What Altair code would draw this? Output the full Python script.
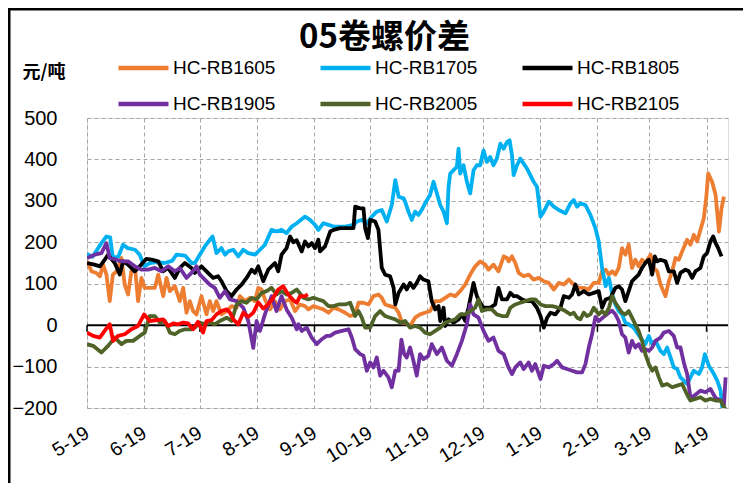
import altair as alt
import pandas as pd

series_names = ["HC-RB1605", "HC-RB1705", "HC-RB1805", "HC-RB1905", "HC-RB2005", "HC-RB2105"]
series_colors = ["#ED7D31", "#00B0F0", "#000000", "#7030A0", "#4F6228", "#FF0000"]

# days counted from May 1 (month boundaries of the x axis)
month_days = [0, 31, 61, 92, 123, 153, 184, 214, 245, 276, 304, 335]
month_labels = ["5-19", "6-19", "7-19", "8-19", "9-19", "10-19", "11-19", "12-19", "1-19", "2-19", "3-19", "4-19"]
y_ticks = [-200, -100, 0, 100, 200, 300, 400, 500]

rb1605_day = [0, 2.4, 5, 7, 8.7, 10.5, 12.3, 14, 16, 18.6, 20.4, 22.2, 24, 26, 27.6, 29.4, 31.2, 34, 36.7, 38.5, 41.2, 43, 44.8, 47.5, 50.2, 52, 53.8, 55.6, 57.4, 59.2, 61.9, 64.6, 66.4, 68.2, 70, 72.7, 75.5, 78.2, 80.9, 82.7, 85.4, 88.1, 90.8, 92.6, 94.4, 96.2, 98.9, 101.6, 104.3, 107, 109.8, 112.5, 115.2, 117.9, 119.7, 122.4, 125.1, 127.8, 130.6, 133.3, 136, 139.6, 142.3, 145, 146.8, 149.5, 152.2, 154.9, 157.6, 159.4, 161.2, 163.9, 166.7, 168.5, 170.3, 172, 174.7, 177.4, 180.1, 182.8, 185.5, 188.3, 191, 193.7, 196.4, 199.1, 201.8, 204.5, 207.2, 209.9, 212.6, 215.3, 217.1, 219.8, 222.5, 225.3, 227.1, 228, 229.8, 231.6, 233.4, 236.1, 238.8, 241.5, 244.3, 247, 249.7, 252.4, 255.1, 257.8, 260.5, 263.2, 265.9, 268.6, 271.3, 274, 276.7, 278.5, 280.4, 282.2, 284, 285.7, 287.5, 289.3, 291.1, 292.9, 294.7, 296.5, 298.3, 300.1, 301.9, 304.7, 306.5, 308.3, 310.1, 312.8, 314.6, 316.4, 318.2, 320, 321.8, 324.5, 326.3, 328.1, 329.9, 331.7, 333.5, 334.8, 335.9, 338, 339.9, 341.7, 343.1, 344.4]
rb1605_val = [154, 130, 126, 118, 146, 122, 58, 122, 130, 162, 98, 74, 130, 138, 58, 114, 90, 90, 90, 122, 70, 114, 82, 94, 58, 90, 30, 58, 34, 26, 70, 26, 58, 34, 58, 26, 34, 46, 42, 70, 58, 66, 58, 90, 86, 62, 38, 58, 38, 58, 62, 34, 50, 46, 38, 46, 42, 38, 30, 42, 38, 30, 22, 26, 54, 54, 50, 70, 74, 66, 50, 46, 42, 30, 6, 6, -2, 18, 26, 30, 34, 58, 58, 66, 74, 70, 82, 98, 122, 142, 154, 146, 134, 146, 130, 166, 162, 154, 166, 150, 126, 118, 122, 110, 114, 106, 102, 86, 102, 98, 110, 98, 90, 90, 86, 102, 102, 130, 134, 122, 130, 122, 138, 186, 170, 194, 138, 158, 142, 158, 150, 170, 138, 130, 98, 70, 106, 130, 162, 158, 178, 206, 194, 218, 202, 230, 258, 306, 366, 346, 314, 226, 282, 310]

rb1705_day = [0, 3, 7.8, 10.5, 12.5, 14, 17, 19.5, 22, 26, 28.5, 31, 34, 38, 42, 46, 48.4, 53, 56.5, 58.3, 61, 63.7, 66.4, 67.9, 70, 72.7, 74.6, 76.4, 79.1, 81.8, 84.5, 87.2, 90.8, 93.5, 96.2, 99.8, 102.5, 105.2, 107.9, 110.7, 113.4, 117.9, 120.6, 123.3, 125.1, 127.8, 130.6, 133.3, 136, 139.6, 144.1, 145.9, 148.6, 151.3, 154, 156.7, 159.4, 162.1, 164.8, 166.7, 168.5, 171.2, 172, 173.8, 175.6, 177.4, 179.2, 181, 182.8, 185.5, 187.4, 189.2, 191, 192.8, 194.6, 195.5, 196.4, 198.2, 200, 200.9, 201.8, 203.6, 205.4, 207.2, 209, 210.8, 212.6, 214.4, 216.2, 218, 219.8, 221.6, 223.5, 225.3, 227.1, 228.5, 229.8, 230.7, 232.5, 234.3, 236.1, 237.9, 239.7, 241.5, 243.3, 244.3, 245.2, 247, 249.7, 252.4, 255.1, 258.7, 261.4, 263.2, 265, 266.8, 269.5, 272.2, 274.9, 276.7, 278.5, 280.4, 282.2, 284, 285.7, 287.5, 289.3, 291.1, 292.9, 295.6, 297.4, 299.2, 301.9, 303.8, 305.6, 307.4, 310.1, 311.9, 313.7, 315.5, 317.3, 319.1, 320.9, 322.7, 324.5, 326.3, 328.1, 330.8, 332.6, 334.1, 336.2, 339, 340.8, 342.6, 343.5, 344.4]
rb1705_val = [172, 165, 198, 214, 212, 162, 166, 194, 186, 182, 170, 142, 150, 152, 150, 155, 170, 168, 150, 150, 170, 190, 206, 214, 174, 186, 170, 178, 182, 166, 182, 174, 170, 182, 194, 230, 226, 230, 222, 238, 246, 262, 254, 242, 230, 246, 242, 238, 238, 238, 242, 250, 254, 246, 262, 274, 278, 250, 290, 350, 310, 306, 298, 274, 254, 274, 266, 278, 294, 314, 346, 318, 290, 274, 246, 334, 366, 374, 382, 426, 366, 386, 346, 318, 374, 386, 386, 422, 394, 406, 386, 402, 438, 426, 442, 446, 410, 362, 386, 402, 390, 378, 362, 346, 334, 298, 262, 274, 298, 286, 278, 270, 294, 302, 286, 294, 290, 266, 234, 202, 138, 94, 114, 74, 50, 34, 26, 6, 2, -6, -18, -30, -46, -26, -46, -38, -62, -70, -54, -78, -102, -106, -126, -134, -142, -126, -110, -118, -102, -70, -98, -118, -134, -158, -198, -210]

rb1805_day = [0, 4, 7, 9.6, 11.4, 15, 17.7, 19.5, 22.2, 25.8, 28.5, 32.1, 34.9, 38.5, 41.2, 43.9, 47.5, 50.2, 52.9, 56.5, 58.3, 61.9, 64.6, 68.2, 70.9, 72.7, 75.5, 78.2, 80.9, 83.6, 86.3, 89, 90.8, 92.6, 95.3, 98, 101.6, 103.4, 105.2, 107.9, 109.8, 111.6, 113.4, 116.1, 117.9, 119.7, 121.5, 123.3, 125.1, 126, 128.7, 131.5, 133.3, 136.9, 140.5, 144.1, 145, 147.7, 149.5, 150.4, 151.9, 153.1, 155.8, 157.6, 159.4, 161.2, 163.9, 165.8, 166.7, 168.5, 171.2, 172.9, 174.7, 176.5, 178.3, 180.1, 181.9, 184.6, 186.4, 188.3, 190.1, 191, 192.8, 193.7, 195.5, 198.2, 200.9, 202.7, 204.5, 206.3, 209, 210.8, 212.6, 214.4, 218, 220.7, 222.5, 224.4, 227.1, 228.9, 230.7, 232.5, 235.2, 237.9, 240.6, 243.3, 245.2, 247, 248.8, 250.6, 253.3, 256, 257.8, 260.5, 262.3, 264.1, 265.9, 268.6, 271.3, 274, 276.7, 278.5, 280.4, 283.1, 285.7, 287.5, 289.3, 291.1, 292.9, 294.7, 296.5, 298.3, 300.1, 301.9, 303.8, 305.6, 307, 308.3, 310.1, 312.8, 314.6, 317.3, 319.1, 320.9, 323.6, 325.4, 327.2, 329, 331.7, 333.5, 335.3, 337.1, 338.6, 339.9, 341.3, 343.1]
rb1805_val = [150, 146, 142, 158, 170, 150, 122, 154, 146, 130, 142, 160, 158, 154, 130, 138, 114, 138, 150, 138, 126, 142, 130, 114, 118, 106, 82, 70, 86, 98, 114, 134, 126, 142, 106, 134, 150, 130, 170, 186, 214, 200, 205, 178, 202, 190, 198, 186, 206, 178, 190, 226, 230, 234, 234, 234, 286, 282, 282, 234, 210, 254, 250, 230, 138, 122, 118, 90, 50, 78, 98, 86, 102, 90, 102, 118, 110, 106, 58, 38, 46, 10, 42, -2, 14, 6, 14, 26, 10, 42, 102, 70, 54, 42, 42, 50, 90, 62, 62, 78, 70, 70, 62, 58, 58, 42, 22, -6, 18, 30, 26, 42, 70, 66, 74, 98, 74, 82, 74, 78, 82, 42, 62, 66, 90, 94, 86, 58, 82, 106, 114, 122, 138, 150, 158, 122, 166, 154, 158, 154, 130, 130, 102, 126, 134, 130, 114, 130, 138, 166, 174, 202, 214, 198, 186, 166]

rb1905_day = [0, 4.2, 7.8, 10.5, 12.3, 15.9, 18.6, 22.2, 25.8, 29.4, 33, 36.7, 40.3, 43.9, 47.5, 50.2, 53.8, 56.5, 59.2, 61, 63.7, 66.4, 69.1, 71.8, 74.6, 77.3, 80.9, 84.5, 87.2, 89.9, 91.7, 93.5, 96.2, 99.8, 102.5, 105.2, 107.9, 110.7, 113.4, 114.3, 116.1, 118.8, 121.5, 124.2, 126.9, 129.6, 131.5, 134.2, 137.8, 141.4, 143.2, 145, 147.7, 149.5, 151.3, 153.1, 154.9, 156.7, 158.5, 160.3, 163, 164.8, 166.7, 168.5, 170, 171.5, 172.9, 174.7, 176.5, 178.3, 180.1, 181.9, 184.6, 186.4, 189.2, 191.9, 194.6, 197.3, 200, 202.7, 205.4, 207.2, 209, 211.7, 214.4, 217.1, 219.8, 222.5, 225.3, 227.9, 229.8, 231.6, 234.3, 236.1, 238.8, 240.6, 242.4, 245.2, 247, 249.7, 252.4, 254.2, 256.9, 259.6, 262.3, 265, 267.7, 269.5, 271.3, 273.1, 274.9, 276.7, 279.4, 282.2, 284, 285.7, 287.5, 289.3, 291.1, 292.9, 294.7, 296.5, 298.3, 300.1, 301.9, 303.8, 305.6, 307.4, 310.1, 311.9, 314.6, 317.3, 319.1, 320.9, 322.7, 324.5, 326.3, 329, 331.7, 334.4, 337.1, 339.9, 342.6, 344.4, 345.3]
rb1905_val = [162, 170, 174, 198, 162, 158, 154, 154, 142, 134, 134, 138, 130, 142, 130, 138, 114, 126, 142, 122, 110, 98, 90, 66, 82, 62, 58, 42, 10, -55, 10, -14, 26, 70, 34, 70, 38, 18, -10, 2, -14, -6, -30, -46, -34, -26, -26, -18, -14, -10, -30, -58, -70, -74, -110, -90, -102, -78, -122, -110, -126, -150, -110, -110, -35, -70, -78, -54, -86, -122, -70, -82, -74, -46, -70, -54, -86, -98, -70, -38, 2, 50, 26, 18, -14, -38, -30, -62, -70, -102, -118, -102, -90, -106, -90, -110, -94, -130, -98, -102, -94, -86, -102, -106, -110, -114, -114, -94, -54, -22, 20, 10, 20, 30, 35, 26, 10, -22, -30, -66, -38, -54, -46, -62, -58, -62, -54, -38, -30, -18, -14, -26, -54, -54, -90, -118, -176, -168, -158, -162, -154, -176, -182, -194, -126]

rb2005_day = [0, 3.3, 7.8, 11.4, 15, 18.6, 21.3, 24.9, 28.5, 31.2, 33.9, 36.7, 39.4, 42.1, 44.8, 47.5, 50.2, 52.9, 56.5, 58.3, 61, 63.7, 66.4, 69.1, 71.8, 75.5, 78.2, 80.9, 83.6, 86.3, 89, 91.7, 94.4, 97.1, 99.8, 102.5, 105.2, 107.9, 110.7, 113.4, 117, 119.7, 122.4, 125.1, 127.8, 130.6, 133.3, 136, 139.6, 142.3, 145, 146.8, 148.6, 150.4, 153.1, 155.8, 158.5, 161.2, 163.9, 166.7, 169.4, 172, 174.7, 177.4, 180.1, 182.8, 185.5, 188.3, 191, 193.7, 196.4, 199.1, 201.8, 204.5, 207.2, 209.9, 211.7, 213.5, 216.2, 218.9, 221.6, 224.4, 227.1, 228.9, 231.6, 234.3, 237, 239.7, 242.4, 245.2, 247.9, 251.5, 255.1, 258.7, 261.4, 263.2, 265, 266.8, 268.6, 270.4, 272.2, 274, 276.7, 278.5, 280.4, 282.2, 284, 285.7, 287.5, 289.3, 291.1, 292.9, 294.7, 296.5, 298.3, 300.1, 301.9, 303.8, 305.6, 307.4, 309.2, 311, 313.7, 316.4, 319.1, 321.8, 324.5, 326.3, 329, 331.7, 334.4, 337.1, 339.9, 342.6, 344.4, 345.6]
rb2005_val = [-46, -50, -66, -50, -30, -46, -38, -38, -26, -18, 22, 22, 6, 10, -18, -22, -14, -10, -10, -6, 6, 2, 6, 2, 10, 18, 10, 50, 58, 54, 66, 62, 78, 82, 90, 74, 82, 74, 78, 86, 66, 62, 66, 62, 58, 46, 46, 50, 50, 54, 22, 34, 18, -6, -6, 22, 34, 22, 18, 14, 6, 10, -6, -2, -6, -18, -22, -14, -6, 6, 10, 14, 26, 26, 34, 42, 62, 34, 38, 38, 26, 22, 22, 42, 50, 54, 58, 62, 62, 50, 46, 46, 42, 34, 26, 30, 18, 14, 30, 22, 26, 42, 26, 34, 26, 42, 70, 54, 42, 30, 26, 34, 18, 2, -14, -38, -70, -94, -110, -102, -126, -146, -142, -150, -146, -142, -168, -182, -178, -174, -182, -178, -182, -182, -198, -205]

rb2105_day = [0, 3.3, 6.9, 10.5, 12.3, 14.1, 16.8, 20.4, 24, 27.6, 30.9, 33.9, 37.6, 41.2, 43.9, 46.6, 49.3, 52, 54.7, 57.4, 60, 62.8, 64.6, 67.3, 70, 72.7, 75.5, 77.3, 79.1, 81.8, 84.5, 87.2, 89.9, 92.6, 95.3, 98, 100.7, 103.4, 106.1, 108.8, 111.6, 113.4, 115.2, 117.9, 119.4]
rb2105_val = [-18, -26, -30, -8, 2, -38, -26, -22, -10, -2, 26, 10, 12, 14, -2, 4, 2, 6, 4, -10, 8, -18, 10, 12, 26, 34, 38, 30, 14, 2, 30, 20, 30, 55, 40, 50, 66, 86, 94, 74, 60, 54, 70, 70, 74]

all_days = [rb1605_day, rb1705_day, rb1805_day, rb1905_day, rb2005_day, rb2105_day]
all_vals = [rb1605_val, rb1705_val, rb1805_val, rb1905_val, rb2005_val, rb2105_val]

rows = []
for name, days, vals in zip(series_names, all_days, all_vals):
    for i, (d, v) in enumerate(zip(days, vals)):
        rows.append({"series": name, "day": d, "value": v, "order": i})
df = pd.DataFrame(rows)

FONT = "Liberation Sans"
CJK = "Noto Sans CJK SC"
GRID = "#A6A6A6"

x_scale = alt.Scale(domain=[0, 346.6], nice=False, zero=False)
y_scale = alt.Scale(domain=[-200, 500], nice=False, zero=False)

label_expr = ("[" + ",".join("'%s'" % s for s in month_labels) + "][indexof(["
              + ",".join(str(d) for d in month_days) + "], datum.value)]")

x_axis = alt.Axis(values=month_days, labelExpr=label_expr, grid=True, gridDash=[4, 3],
                  gridColor=GRID, gridWidth=1, gridOpacity=1, domain=False, ticks=False,
                  labelAngle=-32, labelAlign="right", labelBaseline="middle", labelPadding=23,
                  labelFont=FONT, labelFontSize=19.5, labelColor="#000000", labelOverlap=False,
                  labelBound=False, labelFlush=False, title=None)
y_axis = alt.Axis(values=y_ticks, grid=True, gridDash=[4, 3], gridColor=GRID, gridWidth=1,
                  gridOpacity=1, domain=False, ticks=False, labelPadding=30, labelFont=FONT,
                  labelFontSize=20, labelColor="#000000", title="元/吨", titleAngle=0,
                  titleX=-65, titleY=-46, titleAlign="left", titleBaseline="middle",
                  titleFont=CJK, titleFontSize=18, titleFontWeight="bold", titleColor="#000000")

legend = alt.Legend(orient="none", legendX=29, legendY=-59, columns=3, direction="horizontal",
                    symbolType="stroke", symbolSize=2500, symbolStrokeWidth=4.5, labelFont=FONT,
                    labelFontSize=19, labelColor="#000000", labelOffset=2, columnPadding=42,
                    rowPadding=17, clipHeight=18, title=None, padding=0, labelLimit=300)

zero_rule = alt.Chart(pd.DataFrame({"v": [0]})).mark_rule(color="black", strokeWidth=2).encode(
    y=alt.Y("v:Q", scale=y_scale, axis=y_axis)
)
month_ticks = alt.Chart(pd.DataFrame({"day": month_days})).mark_rule(color="black", strokeWidth=1.5).encode(
    x=alt.X("day:Q", scale=x_scale, axis=x_axis),
    y=alt.datum(0),
    y2=alt.datum(-16),
)

lines = alt.Chart(df).mark_line(strokeWidth=3.8, clip=True, strokeJoin="round").encode(
    x=alt.X("day:Q", scale=x_scale, axis=x_axis),
    y=alt.Y("value:Q", scale=y_scale, axis=y_axis),
    color=alt.Color("series:N", scale=alt.Scale(domain=series_names, range=series_colors), legend=legend),
    order=alt.Order("order:Q"),
)

# outer chart frame (top and left edges)
frame_top = alt.Chart(pd.DataFrame({"a": [0]})).mark_rect(color="black").encode(
    x=alt.value(-80), x2=alt.value(656), y=alt.value(-110), y2=alt.value(-107.5)
)
frame_left = alt.Chart(pd.DataFrame({"a": [0]})).mark_rect(color="black").encode(
    x=alt.value(-79.5), x2=alt.value(-76.5), y=alt.value(-110), y2=alt.value(370)
)

chart = alt.layer(zero_rule, month_ticks, lines, frame_top, frame_left).properties(
    width=641,
    height=290,
    autosize="none",
    padding={"left": 79, "top": 110, "right": 17, "bottom": 75},
    title=alt.TitleParams("05卷螺价差", font=CJK, fontSize=33, fontWeight="bold",
                          color="#000000", anchor="middle", dx=-23, dy=47, offset=0),
).configure_view(stroke=None).configure(background="white")

chart.save("out.html", embed_options={"renderer": "svg", "actions": False})
